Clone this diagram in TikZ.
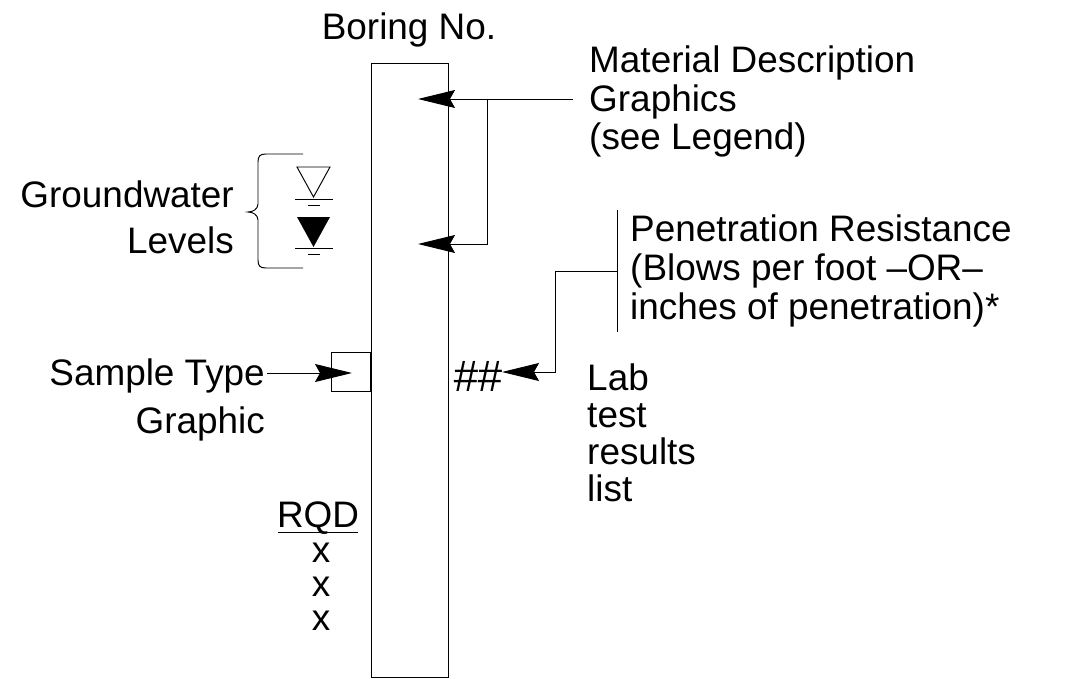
\documentclass[tikz,border=0pt]{standalone}
\usepackage{fontspec}
\setmainfont{Liberation Sans}
\usepackage{tikz}
\usetikzlibrary{arrows.meta,calc,positioning}

\begin{document}
\begin{tikzpicture}[x=0.02cm,y=-0.02cm,line width=0.55pt,
  lbl/.style={font=\fontsize{21}{25}\selectfont,inner sep=1pt},
  arr/.style={-{Stealth[length=0.74cm,width=0.36cm,inset=0.1cm]}}]
  \useasboundingbox (0,0) rectangle (1068,679);
  % boring column
  \node[draw,minimum width=1.54cm,minimum height=12.3cm,inner sep=0] (col) at (409.5,370.5) {};
  \node[lbl,anchor=base] (bno) at (409,40) {Boring No.};
  \node[draw,minimum width=0.78cm,minimum height=0.78cm,inner sep=0,anchor=east] (sbox) at (371,371.5) {};

  % material description
  \node[lbl,anchor=base west] (mat1) at (587,73) {Material Description};
  \node[lbl,anchor=base west] (mat2) at (587,112) {Graphics};
  \node[lbl,anchor=base west] (mat3) at (587,150) {(see Legend)};
  \coordinate (mtip1) at (418,99);
  \coordinate (mtip2) at (418,244);
  \coordinate (mjoin) at (487,99);
  \draw[arr] ([xshift=-0.28cm]mat2.west |- mtip1) -- (mtip1);
  \draw[arr] (mjoin) |- (mtip2);

  % groundwater
  \node[lbl,anchor=base east] (gw1) at (236,207) {Groundwater};
  \node[lbl,anchor=base east] (gw2) at (236,253) {Levels};
  \draw (303,154) -- (266,154) .. controls (260,154) and (258,156) .. (258,162)
    -- (258,204) .. controls (258,209) and (253,212) .. (248,212)
    .. controls (253,212) and (258,215) .. (258,220)
    -- (258,260) .. controls (258,266) and (260,268) .. (266,268) -- (303,268);
  \draw (297,167) -- (330,167) -- (313.5,197) -- cycle;
  \draw (295,199) -- (333,199) (308,205) -- (320,205);
  \fill (297,217) -- (330,217) -- (313.5,247) -- cycle;
  \draw (295,248) -- (333,248) (308,254) -- (320,254);

  % sample type
  \node[lbl,anchor=base east] (st1) at (267,385) {Sample Type};
  \node[lbl,anchor=base east] (st2) at (267,433) {Graphic};
  \coordinate (stip) at (352,373);
  \draw[arr] (st1.east |- stip) -- (stip);

  % penetration resistance
  \node[lbl,anchor=base west] (pen1) at (628,241) {Penetration Resistance};
  \node[lbl,anchor=base west] (pen2) at (628,280) {(Blows per foot --OR--};
  \node[lbl,anchor=base west] (pen3) at (628,319) {inches of penetration)*};
  \node[lbl,anchor=base west,font=\fontsize{25}{30}\selectfont\itshape] (hash) at (451,391) {\#\#};
  \coordinate (pbtop) at (617,210);
  \coordinate (pbbot) at (617,332);
  \coordinate (pjoin) at (617,271);
  \coordinate (pbend) at (555,271);
  \coordinate (ptip) at (502,372);
  \draw (pbtop) -- (pbbot);
  \draw[arr] (pjoin) -- (pbend) |- (ptip);

  % lab tests
  \node[lbl,anchor=base west] (lab1) at (585,390) {Lab};
  \node[lbl,anchor=base west] (lab2) at (585,427) {test};
  \node[lbl,anchor=base west] (lab3) at (585,464) {results};
  \node[lbl,anchor=base west] (lab4) at (585,501) {list};

  % rqd
  \node[lbl,anchor=base] (rqd) at (318,527) {RQD};
  \draw ($(rqd.base west)+(3,5)$) -- ($(rqd.base east)+(-3,5)$);
  \node[lbl,anchor=base] (x1) at (321,562) {x};
  \node[lbl,anchor=base] (x2) at (321,596) {x};
  \node[lbl,anchor=base] (x3) at (321,630) {x};
\end{tikzpicture}
\end{document}
